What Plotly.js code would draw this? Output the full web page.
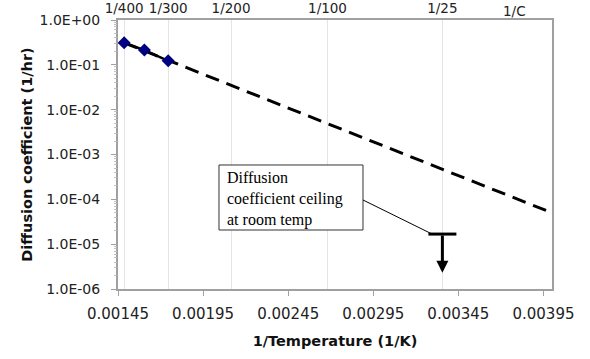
<!DOCTYPE html>
<html>
<head>
<meta charset="utf-8">
<script src="https://cdn.plot.ly/plotly-3.0.1.min.js"></script>
<style>html,body{margin:0;padding:0;background:#fff;}#chart{width:590px;height:359px;}</style>
</head>
<body>
<div id="chart"></div>
<script>
// Measured data (1/K vs 1/hr)
const invTemp = [0.001486, 0.001605, 0.001745];
const diffCoef = [0.31, 0.213, 0.123];
// Trend line end points
const trendX = [0.001486, 0.004];
const trendY = [0.31, 5.0e-5];
// Ceiling at room temperature
const ceilingX = [0.003356];
const ceilingY = [1.68e-5];
const arrowTipY = 2.3e-6;
// Axis ticks
const xTickVals = [0.00145, 0.00195, 0.00245, 0.00295, 0.00345, 0.00395];
const yTickVals = [1e-6, 1e-5, 1e-4, 1e-3, 1e-2, 1e-1, 1];
const yTickText = ['1.0E-06', '1.0E-05', '1.0E-04', '1.0E-03', '1.0E-02', '1.0E-01', '1.0E+00'];
const topTempsC = [400, 300, 200, 100, 25];
const topLabels = ['1/400', '1/300', '1/200', '1/100', '1/25'];

const topTickVals = topTempsC.map(t => 1 / (t + 273));
const minorY = [];
for (let e = -6; e < 0; e++) for (let m = 2; m <= 9; m++) minorY.push(m * Math.pow(10, e));

const axisGray = '#a0a0a0';

const traces = [
  {x: trendX, y: trendY, type: 'scatter', mode: 'lines',
   line: {color: '#000', width: 3, dash: '14px,8px'}, hoverinfo: 'skip'},
  {x: invTemp, y: diffCoef, type: 'scatter', mode: 'lines+markers',
   line: {color: '#000', width: 2.5},
   marker: {symbol: 'diamond', size: 10, color: '#000080'}},
  {x: ceilingX, y: ceilingY, type: 'scatter', mode: 'markers',
   marker: {symbol: 'line-ew', size: 20, line: {color: '#000', width: 3}}},
  {x: [0.002], y: [1e-3], yaxis: 'y2', type: 'scatter', mode: 'markers',
   marker: {opacity: 0}, hoverinfo: 'skip'},
  {x: [0.002], y: [1e-3], xaxis: 'x2', type: 'scatter', mode: 'markers',
   marker: {opacity: 0}, hoverinfo: 'skip'}
];

const layout = {
  width: 590, height: 359,
  margin: {l: 118, r: 38, t: 20, b: 70},
  paper_bgcolor: '#fff', plot_bgcolor: '#fff',
  showlegend: false,
  xaxis: {
    range: [0.00145, 0.004], tickmode: 'array', tickvals: xTickVals,
    ticktext: xTickVals.map(v => v.toFixed(5)),
    showgrid: false, zeroline: false,
    showline: true, linecolor: axisGray, linewidth: 2, mirror: true,
    ticks: 'outside', ticklen: 5, tickcolor: axisGray, tickwidth: 1,
    tickfont: {family: 'DejaVu Sans', size: 15, color: '#222'}, ticklabelstandoff: 5,
    title: {text: '<b>1/Temperature (1/K)</b>', font: {family: 'DejaVu Sans', size: 14.5, color: '#111'}, standoff: 14}
  },
  xaxis2: {
    overlaying: 'x', side: 'top', anchor: 'y',
    range: [0.00145, 0.004], tickmode: 'array', tickvals: topTickVals, ticktext: topLabels,
    showgrid: true, gridcolor: '#e4e4e4', gridwidth: 1, zeroline: false,
    showline: false, ticks: '', ticklabelstandoff: 3,
    tickfont: {family: 'DejaVu Sans', size: 13.5, color: '#222'}
  },
  yaxis: {
    type: 'log', range: [-6, 0], tickmode: 'array', tickvals: yTickVals, ticktext: yTickText,
    showgrid: false, zeroline: false,
    showline: true, linecolor: axisGray, linewidth: 2, mirror: true,
    ticks: 'outside', ticklen: 5, tickcolor: axisGray, tickwidth: 1,
    tickfont: {family: 'DejaVu Sans', size: 14, color: '#222'}, ticklabelstandoff: 8,
    title: {text: '<b>Diffusion coefficient (1/hr)</b>', font: {family: 'DejaVu Sans', size: 14.5, color: '#111'}, standoff: 3}
  },
  yaxis2: {
    type: 'log', range: [-6, 0], overlaying: 'y', side: 'left', anchor: 'x',
    tickmode: 'array', tickvals: minorY, showticklabels: false,
    ticks: 'outside', ticklen: 3, tickcolor: '#c0c0c0', tickwidth: 1,
    showgrid: false, zeroline: false, showline: false
  },
  shapes: [
    {type: 'rect', xref: 'paper', yref: 'paper', x0: 0.2327, x1: 0.5645, y0: 0.2193, y1: 0.461,
     line: {color: '#333', width: 1}, fillcolor: '#fff', layer: 'above'},
    {type: 'line', xref: 'paper', yref: 'paper', x0: 0.5645, y0: 0.3309, x1: 0.7235, y1: 0.2045,
     line: {color: '#000', width: 1}}
  ],
  annotations: [
    {xref: 'paper', yref: 'paper', x: 0.2465, y: 0.455, xanchor: 'left', yanchor: 'top',
     align: 'left', showarrow: false,
     text: 'Diffusion<br>coefficient ceiling<br>at room temp',
     font: {family: 'Liberation Serif', size: 16, color: '#000'}},
    {xref: 'x', yref: 'y', x: ceilingX[0], y: Math.log10(arrowTipY),
     axref: 'x', ayref: 'y', ax: ceilingX[0], ay: Math.log10(ceilingY[0]),
     showarrow: true, arrowhead: 2, arrowsize: 0.8, arrowwidth: 3, arrowcolor: '#000', text: ''},
    {xref: 'paper', yref: 'paper', x: 0.9447, y: 1, yanchor: 'bottom', yshift: -1,
     showarrow: false, text: '1/C', font: {family: 'DejaVu Sans', size: 13.5, color: '#222'}}
  ]
};

Plotly.newPlot('chart', traces, layout, {displayModeBar: false, staticPlot: true});
</script>
</body>
</html>
